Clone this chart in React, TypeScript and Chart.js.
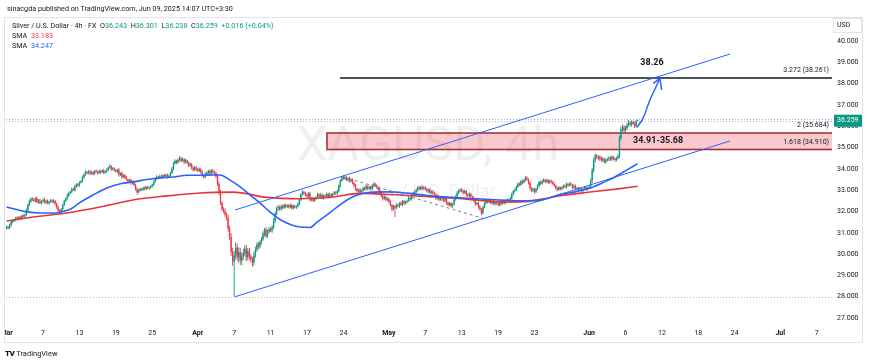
import React, { useEffect, useRef } from "react";
import { Chart, registerables } from "chart.js";

Chart.register(...registerables);

const FONT = "Roboto, 'Noto Sans', Arial, sans-serif";
const UP = "#089981";
const DOWN = "#f23645";
const BLUE = "#2962ff";
const RED_SMA = "#e8323f";
const TEXT = "#131722";

// ---------- price data (4h bars, Mar 3 – Jun 9 2025) ----------
const openStart = 31.2;

const closesMar = [
  31.28, 31.22, 31.35, 31.5, 31.58, 31.62,
  31.7, 31.66, 31.74, 31.68, 31.8, 31.76,
  31.85, 32.05, 32.3, 32.48, 32.6, 32.55,
  32.5, 32.62, 32.45, 32.52, 32.4, 32.48,
  32.55, 32.42, 32.5, 32.38, 32.46, 32.52,
  32.44, 32.5, 32.36, 32.2, 32.05, 31.98,
  32.1, 32.32, 32.48, 32.6, 32.75, 32.87,
  32.92, 33.05, 33.0, 33.18, 33.28, 33.22,
  33.35, 33.42, 33.6, 33.72, 33.85, 33.8,
  33.88, 33.78, 33.84, 33.76, 33.9, 33.86,
  33.8, 33.9, 33.84, 33.92, 33.82, 33.88,
  33.95, 34.05, 34.12, 33.98, 34.02, 33.94,
  33.88, 33.96, 33.72, 33.8, 33.62, 33.7,
  33.58, 33.5, 33.4, 33.48, 33.32, 33.38,
  33.25, 33.05, 32.9, 32.98, 33.05, 33.02,
  33.1, 33.05, 33.15, 33.08, 33.12, 33.18,
  33.25, 33.4, 33.55, 33.62, 33.58, 33.64,
  33.6, 33.7, 33.65, 33.72, 33.62, 33.68,
  33.8, 34.0, 34.25, 34.38, 34.3, 34.42,
  34.5, 34.38, 34.45, 34.32, 34.4, 34.28,
  34.15, 34.22, 34.05, 33.95, 34.08, 33.98,
];
const closesApr = [
  33.9, 33.98, 33.85, 33.7, 33.62, 33.75,
  33.82, 33.9, 33.78, 33.92, 33.85, 33.8,
  33.65, 33.3, 32.9, 32.4, 32.1, 32.02,
  31.85, 31.7, 31.2, 30.8, 30.1, 29.65,
  29.95, 30.3, 29.85, 30.1, 29.7, 29.9,
  30.05, 30.25, 29.85, 30.15, 29.9, 29.75,
  29.6, 29.95, 30.2, 30.45, 30.35, 30.55,
  30.7, 30.95, 31.15, 30.85, 31.05, 31.18,
  31.1, 31.25, 31.55, 31.9, 32.15, 32.2,
  32.1, 32.25, 32.18, 32.3, 32.22, 32.28,
  32.2, 32.3, 32.15, 32.26, 32.2, 32.24,
  32.35, 32.55, 32.8, 32.92, 32.85, 32.78,
  32.7, 32.85, 32.55, 32.62, 32.5, 32.58,
  32.65, 32.8, 32.7, 32.78, 32.62, 32.75,
  32.7, 32.82, 32.68, 32.8, 32.74, 32.82,
  32.9, 32.85, 32.95, 33.2, 33.45, 33.62,
  33.55, 33.6, 33.48, 33.56, 33.42, 33.5,
  33.35, 33.22, 33.05, 32.95, 33.02, 32.92,
  32.98, 33.1, 33.05, 33.18, 33.08, 33.15,
  33.05, 33.2, 33.3, 33.22, 33.12, 33.02,
  32.85, 32.72, 32.6, 32.68, 32.55, 32.6,
];
const closesMay = [
  32.45, 32.3, 32.1, 32.25, 32.18, 32.3,
  32.25, 32.4, 32.32, 32.48, 32.38, 32.45,
  32.5, 32.62, 32.58, 32.78, 32.85, 32.92,
  33.0, 33.12, 33.05, 33.15, 33.08, 33.12,
  33.05, 32.95, 33.02, 32.88, 32.94, 32.85,
  32.8, 32.62, 32.7, 32.55, 32.64, 32.58,
  32.5, 32.62, 32.4, 32.3, 32.38, 32.26,
  32.35, 32.55, 32.7, 32.88, 32.96, 33.02,
  32.95, 32.88, 32.96, 32.8, 32.74, 32.82,
  32.7, 32.62, 32.48, 32.35, 32.4, 32.22,
  32.1, 31.92, 32.2, 32.38, 32.5, 32.45,
  32.52, 32.4, 32.48, 32.36, 32.44, 32.38,
  32.3, 32.44, 32.36, 32.48, 32.4, 32.5,
  32.55, 32.48, 32.62, 32.8, 32.95, 33.02,
  33.15, 33.3, 33.25, 33.42, 33.36, 33.48,
  33.58, 33.5, 33.35, 33.1, 32.98, 33.05,
  32.92, 33.05, 33.2, 33.38, 33.3, 33.42,
  33.48, 33.4, 33.46, 33.36, 33.44, 33.38,
  33.3, 33.22, 33.1, 33.02, 33.12, 33.05,
  33.12, 33.2, 33.15, 33.28, 33.22, 33.3,
  33.25, 33.12, 33.2, 33.05, 33.1, 33.02,
  33.08, 32.98, 33.06, 33.12, 33.04, 33.1,
];
const closesJun = [
  33.15, 33.45, 33.95, 34.4, 34.62, 34.55,
  34.48, 34.55, 34.4, 34.46, 34.32, 34.4,
  34.45, 34.52, 34.44, 34.55, 34.48, 34.42,
  34.5, 34.6, 35.45, 35.85, 35.95, 35.8,
  35.92, 36.05, 36.15, 36.08, 36.2, 36.12,
  36.0, 36.243, 36.259,
];

// wick lengths in cents (above max(open,close) / below min(open,close))
const upWickMar = [
  6,4,8,5,7,4, 5,8,4,6,5,7, 4,9,6,8,5,7, 8,5,10,6,7,4, 6,9,5,7,4,6, 5,7,4,6,8,5,
  6,4,7,5,8,6, 5,8,6,7,4,6, 7,5,9,6,8,5, 6,9,5,7,4,8, 5,7,6,4,8,5, 8,6,10,5,7,4,
  6,5,8,4,7,5, 5,8,4,6,5,7, 7,5,9,6,8,5, 6,8,5,7,4,6, 5,7,6,8,5,9, 8,5,7,4,6,5,
  6,9,8,7,5,8, 10,6,8,5,7,4, 6,8,5,7,6,4,
];
const downWickMar = [
  5,7,4,6,5,8, 6,4,7,5,8,5, 7,5,6,4,8,6, 5,8,6,9,5,7, 6,5,8,4,7,5, 5,6,8,7,10,8,
  7,5,6,4,5,6, 5,7,4,6,5,8, 6,4,5,7,4,6, 5,8,6,7,5,6, 7,5,8,4,6,5, 6,5,4,8,6,7,
  5,7,9,6,8,5, 6,5,8,4,7,6, 8,7,12,5,6,5, 6,5,7,4,6,5, 5,6,4,7,5,6, 6,5,7,5,8,4,
  5,4,6,5,8,6, 7,8,5,9,6,7, 8,6,9,7,5,8,
];
const upWickApr = [
  6,8,5,7,6,9, 7,5,8,6,7,5, 8,10,9,12,8,10, 12,10,15,14,18,20, 20,25,18,22,20,18,
  20,16,18,14,15,12, 12,15,14,10,12,10, 10,12,8,12,10,9, 8,10,12,9,8,10, 8,6,9,5,7,6,
  6,8,5,7,6,5, 7,9,6,8,5,7, 8,6,7,5,6,5, 6,8,5,7,6,5, 5,7,6,8,5,6, 6,5,7,8,6,5,
  8,6,7,5,8,6, 6,5,7,6,5,8, 5,7,6,8,5,6, 6,8,7,5,6,5, 8,6,5,7,6,5,
];
const downWickApr = [
  6,5,8,7,9,6, 5,7,6,5,8,6, 8,10,12,10,8,9, 10,12,15,14,18,20, 165,20,18,25,20,22,
  18,15,20,14,16,12, 20,14,12,10,12,9, 10,8,12,10,9,8, 8,10,7,9,8,10, 7,6,8,5,7,6,
  6,5,7,6,5,8, 5,6,7,5,8,6, 6,5,8,7,6,5, 5,7,6,8,5,6, 6,5,7,6,8,5, 5,8,6,5,7,6,
  6,7,5,8,6,7, 7,6,8,5,7,6, 5,6,7,5,8,6, 6,7,5,8,6,7, 7,6,8,5,7,6,
];
const upWickMay = [
  6,8,5,7,6,8, 7,5,8,6,7,5, 6,8,7,5,6,7, 8,6,7,5,8,6, 6,7,5,8,6,5, 7,5,8,6,7,5,
  6,8,5,7,6,8, 5,7,6,8,7,6, 8,6,7,5,6,7, 6,5,7,6,5,7, 7,6,8,5,7,6, 6,8,5,7,6,5,
  5,7,6,8,5,7, 6,5,7,8,6,7, 8,6,7,5,8,6, 9,7,6,8,5,7, 6,8,7,5,6,8, 7,5,6,8,5,6,
  6,7,5,6,8,5, 5,7,6,8,5,7, 7,5,8,6,5,6, 6,7,5,8,6,5,
];
const downWickMay = [
  8,7,10,6,45,6, 6,7,5,8,6,7, 7,5,8,6,7,5, 6,8,5,7,6,8, 7,6,8,5,7,6, 5,8,6,7,5,8,
  6,7,8,6,5,7, 8,6,5,7,6,5, 6,7,5,8,6,7, 5,7,6,8,6,9, 8,10,6,5,7,6, 6,5,7,6,8,5,
  7,6,8,5,6,7, 5,8,6,7,5,6, 6,5,7,6,8,5, 7,6,8,10,8,6, 8,6,5,7,6,5, 6,7,5,8,6,7,
  5,6,8,7,5,6, 7,5,6,8,6,5, 6,8,5,7,6,8, 7,6,8,5,7,6,
];
const upWickJun = [6,8,10,12,10,8, 10,8,7,9,6,8, 7,6,8,9,7,6, 6,8,12,15,14,10, 10,12,14,8,8,6, 10,6,4];
const downWickJun = [6,8,10,12,10,8, 8,10,7,8,6,8, 6,8,7,6,8,7, 7,6,10,12,10,8, 8,10,6,8,10,6, 8,6,1];

// ---------- indicators & drawings (x in bar index, y in price) ----------
const smaBlueBars = [0, 13.4, 22, 33, 37, 42, 48, 57, 66, 75, 83, 92.5, 101, 110, 119, 127.5, 136, 140.7, 147, 154, 160.5, 167, 173.6, 182, 193.4, 200, 204.6, 211, 217.8, 224.4, 231, 239.6, 250.8, 264, 281, 303.5, 325, 338.4, 351.6, 364.8, 374.7, 384.6, 393, 399.7, 409, 416];
const smaBlueVals = [32.21, 31.98, 31.93, 31.93, 32.0, 32.1, 32.4, 32.77, 33.1, 33.3, 33.38, 33.5, 33.57, 33.62, 33.7, 33.7, 33.71, 33.71, 33.48, 33.15, 32.77, 32.4, 31.98, 31.55, 31.27, 31.25, 31.5, 31.83, 32.2, 32.54, 32.77, 32.9, 32.92, 32.86, 32.72, 32.62, 32.54, 32.5, 32.52, 32.8, 32.92, 33.1, 33.35, 33.57, 33.95, 34.247];

const smaRedBars = [0, 17.4, 39.8, 61.6, 83.3, 105.7, 127.5, 149.2, 171.7, 193.4, 215.2, 233, 259.3, 281, 303.5, 320.6, 338.4, 356.2, 364.8, 384.6, 401.8, 416];
const smaRedVals = [31.55, 31.74, 31.93, 32.21, 32.54, 32.73, 32.87, 32.91, 32.66, 32.6, 32.68, 32.85, 32.77, 32.68, 32.58, 32.47, 32.45, 32.62, 32.74, 32.91, 33.05, 33.183];

const channelBars = [150.6, 476.9];
const channelUpper = [32.07, 39.39];
const channelLower = [28.0, 35.31];

const dashedBars = [221.8, 315.4];
const dashedVals = [33.62, 31.65];

const arrowBars = [415.6, 419.5, 424.1, 430.7];
const arrowVals = [35.95, 36.37, 37.23, 38.25];
const arrowHeadBars = [426.3, 430.7, 431.8];
const arrowHeadVals = [38.01, 38.25, 37.7];

const targetLevel = 38.261;
const targetStartBar = 219.8;
const targetLabelBar = 425.4;
const zoneTop = 35.684;
const zoneBottom = 34.91;
const zoneStartBar = 211.2;
const zoneLabelBar = 429.5;
const lastPrice = 36.259;
const highLine = 36.36;
const lowLine = 28.0;

// ---------- axes ----------
const tickBars = [0, 24, 48, 72, 96, 126, 150, 174, 198, 222, 252, 276, 300, 324, 348, 384, 408, 432, 456, 480, 510, 534];
const tickLabels = ["Mar", "7", "13", "19", "25", "Apr", "7", "11", "17", "24", "May", "7", "13", "19", "23", "Jun", "6", "12", "18", "24", "Jul", "7"];
const monthLabels = ["Mar", "Apr", "May", "Jun", "Jul"];
const priceTicks = [27, 28, 29, 30, 31, 32, 33, 34, 35, 36, 37, 38, 39, 40];

const X_MIN = -0.4;
const X_MAX = 544.1;
const Y_MIN = 26.766;
const Y_MAX = 41.126;

const closes = [...closesMar, ...closesApr, ...closesMay, ...closesJun];
const upWicks = [...upWickMar, ...upWickApr, ...upWickMay, ...upWickJun];
const downWicks = [...downWickMar, ...downWickApr, ...downWickMay, ...downWickJun];

function buildCandles() {
  const out: { i: number; o: number; h: number; l: number; c: number }[] = [];
  for (let i = 0; i < closes.length; i++) {
    const o = i === 0 ? openStart : closes[i - 1];
    const c = closes[i];
    const h = Math.max(o, c) + (upWicks[i] ?? 5) / 100;
    const l = Math.min(o, c) - (downWicks[i] ?? 5) / 100;
    out.push({ i, o, h, l, c });
  }
  return out;
}

const pts = (xs: number[], ys: number[]) => xs.map((x, i) => ({ x, y: ys[i] }));

const overlayPlugin = {
  id: "overlay",
  beforeDatasetsDraw(chart: any) {
    const { ctx, chartArea: a, scales } = chart;
    const x = scales.x, y = scales.y;
    ctx.save();
    ctx.beginPath();
    ctx.rect(a.left, a.top, a.right - a.left, a.bottom - a.top);
    ctx.clip();
    // watermark
    ctx.fillStyle = "rgba(19,23,34,0.07)";
    ctx.textAlign = "center";
    ctx.textBaseline = "middle";
    ctx.font = `49px ${FONT}`;
    ctx.fillText("XAGUSD, 4h", 428, 148);
    ctx.font = `18px ${FONT}`;
    ctx.fillText("Silver / U.S. Dollar", 424, 192);
    // dotted lines
    ctx.setLineDash([1, 2]);
    ctx.lineWidth = 1;
    ctx.strokeStyle = "#b2b5be";
    const yl = Math.round(y.getPixelForValue(lowLine)) + 0.5;
    ctx.beginPath(); ctx.moveTo(a.left, yl); ctx.lineTo(a.right, yl); ctx.stroke();
    ctx.strokeStyle = "#a9aed6";
    for (const v of [highLine, lastPrice]) {
      const yy = Math.round(y.getPixelForValue(v)) + 0.5;
      ctx.beginPath(); ctx.moveTo(a.left, yy); ctx.lineTo(a.right, yy); ctx.stroke();
    }
    ctx.setLineDash([]);
    // zone
    const zx = x.getPixelForValue(zoneStartBar);
    const zt = y.getPixelForValue(zoneTop);
    const zb = y.getPixelForValue(zoneBottom);
    ctx.fillStyle = "rgba(242,54,69,0.27)";
    ctx.fillRect(zx, zt, a.right - zx, zb - zt);
    ctx.strokeStyle = "#9e2a2f";
    ctx.lineWidth = 1.5;
    ctx.beginPath();
    ctx.moveTo(a.right + 2, zt); ctx.lineTo(zx, zt); ctx.lineTo(zx, zb); ctx.lineTo(a.right + 2, zb);
    ctx.stroke();
    ctx.restore();
  },
  afterDraw(chart: any) {
    const { ctx, chartArea: a, scales } = chart;
    const x = scales.x, y = scales.y;
    ctx.save();
    // cover left overflow like the reference frame
    ctx.fillStyle = "#ffffff";
    ctx.fillRect(0, 17, 4, 330);
    // texts
    ctx.fillStyle = TEXT;
    ctx.textBaseline = "middle";
    ctx.textAlign = "center";
    ctx.font = `bold 9px ${FONT}`;
    ctx.fillText("38.26", x.getPixelForValue(targetLabelBar), y.getPixelForValue(targetLevel) - 15);
    ctx.fillText("34.91-35.68", x.getPixelForValue(zoneLabelBar), (y.getPixelForValue(zoneTop) + y.getPixelForValue(zoneBottom)) / 2);
    ctx.textAlign = "right";
    ctx.font = `7px ${FONT}`;
    ctx.fillText("3.272 (38.261)", a.right - 3, y.getPixelForValue(targetLevel) - 7.5);
    ctx.fillText("2 (35.684)", a.right - 3, y.getPixelForValue(zoneTop) - 7.5);
    ctx.fillText("1.618 (34.910)", a.right - 3, y.getPixelForValue(zoneBottom) - 7.5);
    // price tag
    const py = y.getPixelForValue(lastPrice);
    ctx.fillStyle = UP;
    ctx.fillRect(a.right + 2, py - 6, 28, 12);
    ctx.fillStyle = "#ffffff";
    ctx.textAlign = "left";
    ctx.font = `7px ${FONT}`;
    ctx.fillText(lastPrice.toFixed(3), a.right + 5, py);
    // USD box
    ctx.strokeStyle = "#e0e3eb";
    ctx.lineWidth = 1;
    ctx.strokeRect(833.5, 18.5, 28, 14);
    ctx.fillStyle = TEXT;
    ctx.fillText("USD", 837, 25.5);
    // frame
    ctx.strokeStyle = "#e0e3eb";
    ctx.strokeRect(4.5, 17.5, 858, 325);
    ctx.restore();
  },
};

export default function App() {
  const ref = useRef<HTMLCanvasElement>(null);
  useEffect(() => {
    if (!ref.current) return;
    const candles = buildCandles();
    const colors = candles.map((k) => (k.c >= k.o ? UP : DOWN));
    const lineBase = { type: "line" as const, pointRadius: 0, fill: false };
    const chart = new Chart(ref.current, {
      type: "bar",
      data: {
        datasets: [
          { ...lineBase, label: "arrow", data: pts(arrowBars, arrowVals), borderColor: BLUE, borderWidth: 1.5, tension: 0.4 },
          { ...lineBase, label: "arrowHead", data: pts(arrowHeadBars, arrowHeadVals), borderColor: BLUE, borderWidth: 1.5, tension: 0 },
          { ...lineBase, label: "upper", data: pts(channelBars, channelUpper), borderColor: BLUE, borderWidth: 1 },
          { ...lineBase, label: "lower", data: pts(channelBars, channelLower), borderColor: BLUE, borderWidth: 1 },
          { ...lineBase, label: "dashed", data: pts(dashedBars, dashedVals), borderColor: "#787b86", borderWidth: 1, borderDash: [3, 3] },
          { ...lineBase, label: "target", data: pts([targetStartBar, X_MAX + 2], [targetLevel, targetLevel]), borderColor: TEXT, borderWidth: 1.4 },
          { ...lineBase, label: "SMA blue", data: pts(smaBlueBars, smaBlueVals), borderColor: BLUE, borderWidth: 1.6, cubicInterpolationMode: "monotone" },
          { ...lineBase, label: "SMA red", data: pts(smaRedBars, smaRedVals), borderColor: RED_SMA, borderWidth: 1.6, cubicInterpolationMode: "monotone" },
          {
            type: "bar", label: "body",
            data: candles.map((k) => ({ x: k.i, y: [k.o, k.c] })) as any,
            backgroundColor: colors, grouped: false, barPercentage: 1, categoryPercentage: 1,
            maxBarThickness: 1.35, minBarLength: 1, inflateAmount: 0, borderWidth: 0,
          } as any,
          {
            type: "bar", label: "wick",
            data: candles.map((k) => ({ x: k.i, y: [k.l, k.h] })) as any,
            backgroundColor: colors, grouped: false, barPercentage: 1, categoryPercentage: 1,
            maxBarThickness: 0.9, inflateAmount: 0, borderWidth: 0,
          } as any,
        ] as any,
      },
      options: {
        responsive: false,
        maintainAspectRatio: false,
        animation: false,
        layout: { padding: { left: 6, top: 17, right: 0, bottom: 21 } },
        plugins: { legend: { display: false }, tooltip: { enabled: false } },
        scales: {
          x: {
            type: "linear", min: X_MIN, max: X_MAX, offset: false,
            grid: { display: false, drawTicks: false }, border: { display: false },
            afterBuildTicks: (s: any) => { s.ticks = tickBars.map((v) => ({ value: v })); },
            afterFit: (s: any) => { s.height = 19; s.paddingLeft = 0; s.paddingRight = 0; },
            ticks: {
              autoSkip: false, maxRotation: 0, minRotation: 0, padding: 6.5, color: TEXT,
              font: (c: any) => {
                const idx = tickBars.indexOf(c.tick ? c.tick.value : -1);
                const lab = idx >= 0 ? tickLabels[idx] : "";
                return { family: FONT, size: 7, weight: monthLabels.includes(lab) ? "bold" : "normal" } as any;
              },
              callback: (v: any) => { const i = tickBars.indexOf(Number(v)); return i >= 0 ? tickLabels[i] : ""; },
            },
          },
          y: {
            type: "linear", position: "right", min: Y_MIN, max: Y_MAX,
            grid: { display: false, drawTicks: false }, border: { display: false },
            afterBuildTicks: (s: any) => { s.ticks = priceTicks.map((v) => ({ value: v })); },
            afterFit: (s: any) => { s.width = 38; s.paddingTop = 0; s.paddingBottom = 0; },
            ticks: { padding: 5, color: TEXT, font: { family: FONT, size: 7 }, callback: (v: any) => Number(v).toFixed(3) },
          },
        } as any,
      } as any,
      plugins: [overlayPlugin as any],
    });
    return () => chart.destroy();
  }, []);

  const base: React.CSSProperties = { position: "absolute", fontFamily: FONT, fontSize: 7.2, color: TEXT, whiteSpace: "nowrap", lineHeight: "9px" };
  const g: React.CSSProperties = { color: UP };
  return (
    <div style={{ position: "absolute", left: 0, top: 0, width: 870, height: 363, background: "#ffffff", overflow: "hidden" }}>
      <canvas ref={ref} width={870} height={363} style={{ position: "absolute", left: 0, top: 0, width: 870, height: 363, display: "block" }} />
      <div style={{ ...base, left: 7, top: 3.5 }}>sinacgda published on TradingView.com, Jun 09, 2025 14:07 UTC+3:30</div>
      <div style={{ ...base, left: 12, top: 20.5 }}>
        Silver / U.S. Dollar · 4h · FX&nbsp; O<span style={g}>36.243</span>&nbsp; H<span style={g}>36.301</span>&nbsp; L<span style={g}>36.238</span>&nbsp; C<span style={g}>36.259</span>&nbsp; <span style={g}>+0.016 (+0.04%)</span>
      </div>
      <div style={{ ...base, left: 12, top: 30.5 }}>SMA&nbsp; <span style={{ color: DOWN }}>33.183</span></div>
      <div style={{ ...base, left: 12, top: 40.5 }}>SMA&nbsp; <span style={{ color: BLUE }}>34.247</span></div>
      <div style={{ ...base, left: 5, top: 348.5, fontSize: 7.5 }}>
        <span style={{ fontWeight: 900, letterSpacing: -0.5, fontSize: 8 }}>TV</span>&nbsp;TradingView
      </div>
    </div>
  );
}
